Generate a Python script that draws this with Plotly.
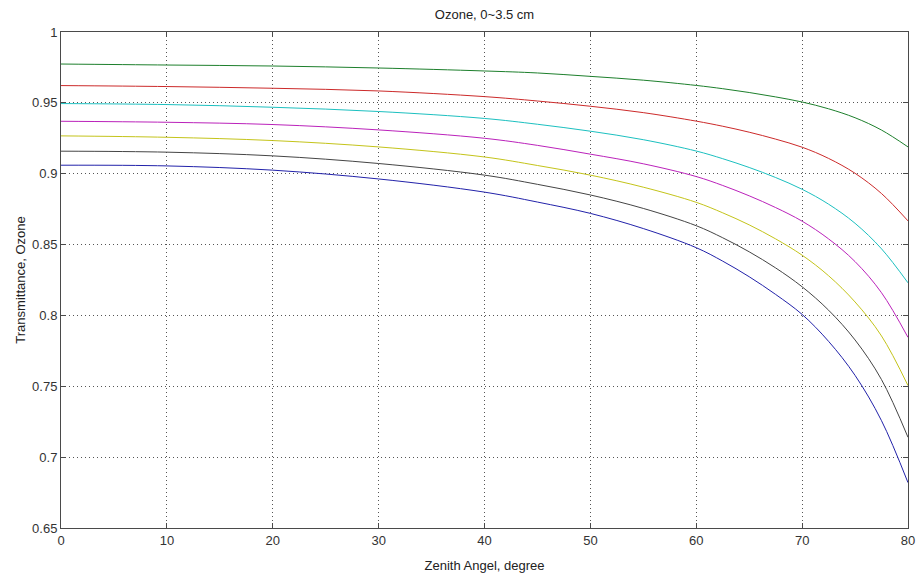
import plotly.graph_objects as go

# Zenith angle samples (degree)
angles = [0, 10, 20, 30, 40, 45, 50, 55, 60, 62.5, 65, 67.5, 70, 72.5, 75, 77.5, 80]

# Transmittance, one series per ozone amount (0.5 ... 3.5 cm)
t_05 = [0.9774, 0.9767, 0.9760, 0.9746, 0.9725, 0.9711, 0.9687, 0.9660, 0.9623, 0.9600, 0.9573, 0.9542, 0.9506, 0.9458, 0.9395, 0.9308, 0.9189]
t_10 = [0.9622, 0.9615, 0.9603, 0.9584, 0.9544, 0.9513, 0.9476, 0.9431, 0.9371, 0.9335, 0.9293, 0.9244, 0.9187, 0.9108, 0.9003, 0.8860, 0.8667]
t_15 = [0.9495, 0.9488, 0.9469, 0.9439, 0.9390, 0.9349, 0.9300, 0.9240, 0.9160, 0.9106, 0.9044, 0.8973, 0.8890, 0.8785, 0.8650, 0.8470, 0.8230]
t_20 = [0.9370, 0.9363, 0.9347, 0.9309, 0.9250, 0.9200, 0.9138, 0.9070, 0.8980, 0.8917, 0.8844, 0.8761, 0.8665, 0.8540, 0.8380, 0.8160, 0.7845]
t_25 = [0.9267, 0.9257, 0.9234, 0.9189, 0.9118, 0.9058, 0.8990, 0.8905, 0.8798, 0.8724, 0.8639, 0.8540, 0.8425, 0.8280, 0.8095, 0.7855, 0.7505]
t_30 = [0.9159, 0.9152, 0.9126, 0.9072, 0.8990, 0.8925, 0.8850, 0.8755, 0.8633, 0.8548, 0.8449, 0.8335, 0.8202, 0.8037, 0.7827, 0.7547, 0.7140]
t_35 = [0.9060, 0.9055, 0.9025, 0.8963, 0.8870, 0.8800, 0.8720, 0.8613, 0.8478, 0.8383, 0.8273, 0.8148, 0.8007, 0.7817, 0.7577, 0.7257, 0.6820]

series = [t_05, t_10, t_15, t_20, t_25, t_30, t_35]
colors = ["#1d7f2c", "#cc2a2a", "#1cc0c0", "#bb22bb", "#c4c41a", "#454545", "#2222aa"]

y_ticks = [0.65, 0.7, 0.75, 0.8, 0.85, 0.9, 0.95, 1]
y_ticktext = ["0.65", "0.7", "0.75", "0.8", "0.85", "0.9", "0.95", "1"]
x_ticks = [0, 10, 20, 30, 40, 50, 60, 70, 80]

fig = go.Figure()
for ys, c in zip(series, colors):
    fig.add_trace(go.Scatter(x=angles, y=ys, mode="lines",
                             line=dict(color=c, width=1, shape="spline", smoothing=1.0),
                             showlegend=False, hoverinfo="skip"))

font_family = "Liberation Sans, Arial, Helvetica, sans-serif"
axis_common = dict(
    showline=True, linecolor="#4a4a4a", linewidth=1, mirror="ticks",
    ticks="inside", ticklen=5, tickcolor="#4a4a4a",
    showgrid=True, gridcolor="#555555", griddash="1px,3px", gridwidth=1,
    zeroline=False, automargin=False,
    tickfont=dict(family=font_family, size=13, color="#333333"),
)

fig.update_layout(
    width=921, height=579,
    paper_bgcolor="white", plot_bgcolor="white",
    margin=dict(l=61, r=13, t=32, b=51),
    title=dict(text="Ozone, 0~3.5 cm", x=0.5, xref="paper", y=1 - 14 / 579, yanchor="middle",
               font=dict(family=font_family, size=13, color="#222222")),
    xaxis=dict(range=[0, 80], tickvals=x_ticks,
               title=dict(text="Zenith Angel, degree", standoff=14,
                          font=dict(family=font_family, size=13, color="#222222")),
               **axis_common),
    yaxis=dict(range=[0.65, 1], tickvals=y_ticks, ticktext=y_ticktext,
               title=dict(text="Transmittance, Ozone", standoff=3,
                          font=dict(family=font_family, size=13, color="#222222")),
               **axis_common),
)

fig.write_html("out.html", config={"displayModeBar": False},
               post_script="document.body.style.margin='0';document.body.style.overflow='hidden';")
